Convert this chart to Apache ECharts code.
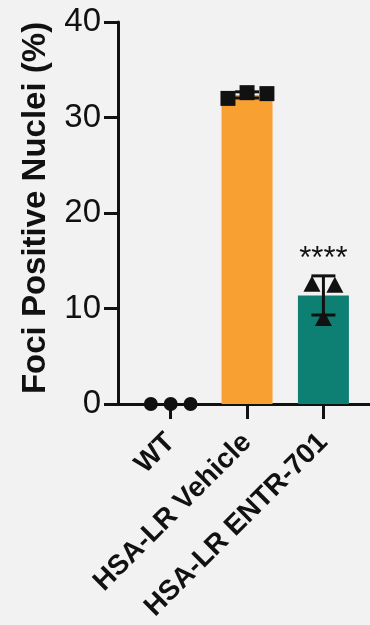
<!DOCTYPE html>
<html>
<head>
<meta charset="utf-8">
<script src="https://cdn.jsdelivr.net/npm/echarts@6/dist/echarts.min.js"></script>
<style>
    html, body { margin: 0; padding: 0; background: #f2f2f2; }
    #chart { width: 370px; height: 625px; }
</style>
</head>
<body>
<div id="chart"></div>
<script>
// data
const groups = ['WT', 'HSA-LR Vehicle', 'HSA-LR ENTR-701'];
const wtValues = [0, 0, 0];
const vehicleValues = [32.0, 32.6, 32.5];
const entrValues = [12.6, 9.0, 12.5];
const significance = ['', '', '****'];
const yTicks = [0, 10, 20, 30, 40];

// styling / layout
const replicateSets = [wtValues, vehicleValues, entrValues];
const barColors = ['#f9a033', '#f9a033', '#0e8073'];
const symbols = ['circle', 'rect', 'triangle'];
const symbolSizes = [14, 15, [17, 16]];
const jitter = [[-0.26, 0, 0.26], [-0.25, 0, 0.26], [-0.15, 0, 0.15]];
const ink = '#111';
const font = 'Liberation Sans, Arial, Helvetica, sans-serif';

const mean = arr => arr.reduce((a, b) => a + b, 0) / arr.length;
const sd = arr => {
    const m = mean(arr);
    return Math.sqrt(arr.reduce((a, b) => a + (b - m) * (b - m), 0) / (arr.length - 1));
};
const means = replicateSets.map(mean);
const sds = replicateSets.map(sd);

const chart = echarts.init(document.getElementById('chart'), null, { renderer: 'canvas' });

const option = {
    animation: false,
    backgroundColor: '#f2f2f2',
    grid: { left: 118, right: 0, top: 22, bottom: 221 },
    xAxis: {
        type: 'value',
        min: -0.69,
        max: 2.61,
        axisLine: { show: true, lineStyle: { color: ink, width: 3 } },
        axisTick: { show: true, customValues: [0, 1, 2], length: 15, lineStyle: { color: ink, width: 3 } },
        axisLabel: {
            customValues: [0, 1, 2],
            formatter: v => groups[v],
            rotate: 45,
            margin: 34,
            fontSize: 28,
            fontWeight: 'bold',
            fontFamily: font,
            color: ink
        },
        splitLine: { show: false }
    },
    yAxis: {
        type: 'value',
        min: yTicks[0],
        max: yTicks[yTicks.length - 1],
        interval: 10,
        name: 'Foci Positive Nuclei (%)',
        nameLocation: 'middle',
        nameRotate: 90,
        nameGap: 66,
        nameTextStyle: { fontSize: 33, fontWeight: 'bold', fontFamily: font, color: ink, padding: [0, 0, 0, 10] },
        axisLine: { show: true, onZero: false, lineStyle: { color: ink, width: 3 } },
        axisTick: { show: true, length: 14, lineStyle: { color: ink, width: 3 } },
        axisLabel: { fontSize: 33, margin: 17, fontFamily: font, color: ink },
        splitLine: { show: false }
    },
    series: [
        {
            type: 'bar',
            barWidth: 51,
            z: 1,
            data: means.map((m, i) => ({ value: [i, m], itemStyle: { color: barColors[i] } }))
        },
        ...replicateSets.map((vals, i) => ({
            type: 'scatter',
            symbol: symbols[i],
            symbolSize: symbolSizes[i],
            itemStyle: { color: ink, opacity: 1 },
            z: 3,
            data: vals.map((v, k) => [i + jitter[i][k], v])
        })),
        {
            type: 'custom',
            z: 4,
            data: means.map((m, i) => [i, m - sds[i], m + sds[i]]),
            renderItem: (params, api) => {
                const x = api.value(0);
                const lo = api.coord([x, api.value(1)]);
                const hi = api.coord([x, api.value(2)]);
                const half = 12;
                const style = { stroke: ink, lineWidth: 3 };
                const children = [];
                if (hi[1] < lo[1] - 0.5) {
                    children.push(
                        { type: 'line', shape: { x1: hi[0], y1: hi[1], x2: lo[0], y2: lo[1] }, style },
                        { type: 'line', shape: { x1: hi[0] - half, y1: hi[1], x2: hi[0] + half, y2: hi[1] }, style },
                        { type: 'line', shape: { x1: lo[0] - half, y1: lo[1], x2: lo[0] + half, y2: lo[1] }, style }
                    );
                }
                const mark = significance[params.dataIndex];
                if (mark) {
                    children.push({
                        type: 'text',
                        x: hi[0],
                        y: hi[1] - 16,
                        style: {
                            text: mark,
                            fill: ink,
                            fontSize: 31,
                            fontFamily: font,
                            align: 'center',
                            verticalAlign: 'middle'
                        }
                    });
                }
                return { type: 'group', children };
            }
        }
    ]
};

chart.setOption(option);
</script>
</body>
</html>
